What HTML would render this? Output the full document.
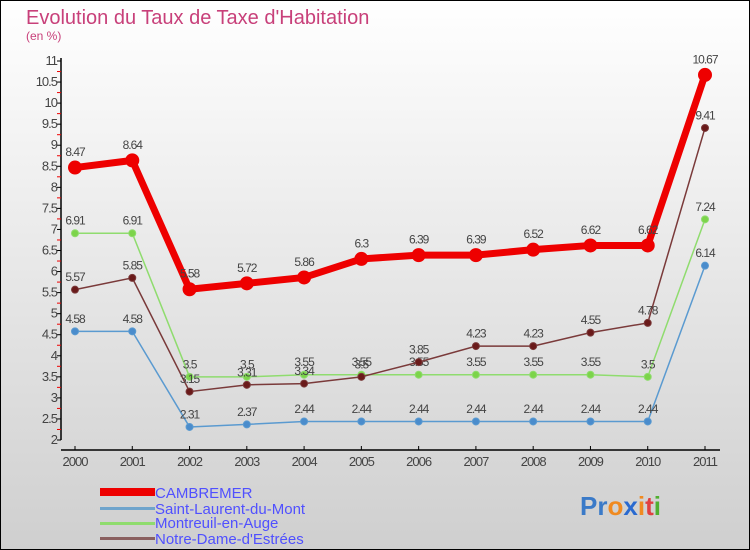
<!DOCTYPE html>
<html><head><meta charset="utf-8"><style>
body{margin:0}
svg{display:block;font-family:"Liberation Sans",sans-serif}
</style></head><body>
<svg id="c" width="750" height="550">
<defs><linearGradient id="bg" x1="0" y1="0" x2="0" y2="1"><stop offset="0" stop-color="#ffffff"/><stop offset="1" stop-color="#cfcfcf"/></linearGradient></defs>
<rect x="0.5" y="0.5" width="749" height="549" fill="url(#bg)" stroke="#000"/>
<text x="26" y="24" font-size="20" fill="#c8407a">Evolution du Taux de Taxe d'Habitation</text>
<text x="26" y="40" font-size="12" fill="#c8407a">(en %)</text>
<g id="axes"></g><g id="series"></g>
<g font-size="15" fill="#5050ff">
<rect x="100" y="488" width="55" height="8" fill="#ee0000"/>
<text x="155" y="498">CAMBREMER</text>
<rect x="100" y="507" width="55" height="3" fill="#6fa4cc"/>
<text x="155" y="514">Saint-Laurent-du-Mont</text>
<rect x="100" y="522" width="55" height="3" fill="#8fdc6e"/>
<text x="155" y="528">Montreuil-en-Auge</text>
<rect x="100" y="537" width="55" height="3" fill="#8a6060"/>
<text x="155" y="544">Notre-Dame-d'Estrées</text>
</g>
<text x="580" y="515" font-size="26" font-weight="bold"><tspan fill="#3a7ac8">Pr</tspan><tspan fill="#f08a20">o</tspan><tspan fill="#2a6ad0">x</tspan><tspan fill="#f08a20">i</tspan><tspan fill="#e04040">t</tspan><tspan fill="#50b030">i</tspan></text>
</svg>
<script>
const years=[2000,2001,2002,2003,2004,2005,2006,2007,2008,2009,2010,2011];
const cambremer=[8.47,8.64,5.58,5.72,5.86,6.3,6.39,6.39,6.52,6.62,6.62,10.67];
const saintLaurent=[4.58,4.58,2.31,2.37,2.44,2.44,2.44,2.44,2.44,2.44,2.44,6.14];
const montreuil=[6.91,6.91,3.5,3.5,3.55,3.55,3.55,3.55,3.55,3.55,3.5,7.24];
const notreDame=[5.57,5.85,3.15,3.31,3.34,3.5,3.85,4.23,4.23,4.55,4.78,9.41];
const yTicks=[2,2.5,3,3.5,4,4.5,5,5.5,6,6.5,7,7.5,8,8.5,9,9.5,10,10.5,11];
const NS="http://www.w3.org/2000/svg";
function x(i){return 75+i*(705-75)/(years.length-1);}
function y(v){return 440-(v-2)*(440-61)/9;}
function mk(t,a,p){const e=document.createElementNS(NS,t);for(const k in a)e.setAttribute(k,a[k]);p.appendChild(e);return e;}
const ax=document.getElementById('axes');
const ya=mk('line',{x1:61,y1:58,x2:61,y2:440,stroke:'#000','stroke-width':1.5},ax);


const xa=mk('line',{x1:61,y1:450,x2:720,y2:450,stroke:'#000','stroke-width':1.5},ax);


yTicks.forEach((v,k)=>{
 mk('line',{x1:57,y1:y(v),x2:61,y2:y(v),stroke:'#000'},ax);
 if(k<yTicks.length-1) mk('line',{x1:57,y1:y(v+0.25),x2:61,y2:y(v+0.25),stroke:'#e00'},ax);
 const t=mk('text',{x:57,y:y(v)+4,'text-anchor':'end','font-size':13,fill:'#444','letter-spacing':-1},ax);t.textContent=v;
 
 
});
years.forEach((yr,i)=>{
 mk('line',{x1:x(i),y1:446,x2:x(i),y2:450,stroke:'#000'},ax);
 const t=mk('text',{x:x(i),y:466,'text-anchor':'middle','font-size':13,fill:'#444','letter-spacing':-1},ax);t.textContent=yr;
 
 
});
const sg=document.getElementById('series');
function series(data,color,dot,lw,r,name){
 const g=mk('g',{},sg);
 
 
 mk('polyline',{points:data.map((v,i)=>x(i)+','+y(v)).join(' '),fill:'none',stroke:color,'stroke-width':lw},g);
 data.forEach((v,i)=>{
  const c=mk('circle',{cx:x(i),cy:y(v),r:r,fill:dot,stroke:color},g);
  
  
  const t=mk('text',{x:x(i),y:y(v)-(r+5),'text-anchor':'middle','font-size':12,fill:'#444','letter-spacing':-1},g);t.textContent=v;
 });
}
series(saintLaurent,'#5a9ad0','#4a8ccc',1.5,3.5,'series-saint-laurent');
series(montreuil,'#8fdc6e','#7cd44a',1.5,3.5,'series-montreuil');
series(notreDame,'#7a3a3a','#6a1a1a',1.5,3.5,'series-notre-dame');
series(cambremer,'#ee0000','#ee0000',7,6.5,'series-cambremer');
</script>
</body></html>
